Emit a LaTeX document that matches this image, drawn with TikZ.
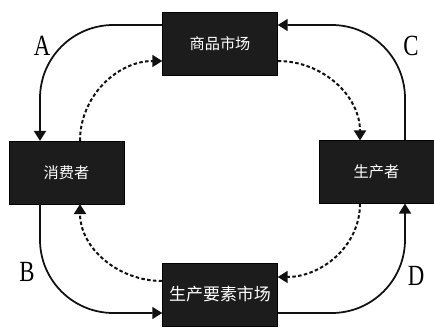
\documentclass[tikz,border=0pt]{standalone}
\usepackage{fontspec}
\usepackage{xcolor}
\usepackage{tikz}
\usetikzlibrary{arrows.meta,positioning,calc}
\newfontfamily\cjk{Noto Sans CJK SC}
\newfontfamily\labelfont{Liberation Serif}
\definecolor{boxdark}{HTML}{1C1C1C}
\definecolor{linedark}{HTML}{111111}
\tikzset{
  marketbox/.style={draw=black, fill=boxdark, text=white, align=center, inner sep=0pt, minimum width=34.5mm, minimum height=18.8mm, font=\cjk\fontsize{13}{13}\selectfont},
  arrow/.style={-{Triangle[length=3mm,width=3.6mm]}, line width=1.5pt, draw=linedark, rounded corners=22mm},
  dashedarrow/.style={-{Triangle[length=3mm,width=3.6mm]}, line width=1.7pt, draw=linedark, dash pattern=on 3pt off 2pt},
  flowlabel/.style={font=\labelfont\fontsize{25}{25}\selectfont, xscale=0.78}
}
\begin{document}
\begin{tikzpicture}[x=0.3mm, y=0.3mm]
  \useasboundingbox (0,0) rectangle (434,329);
  \node[marketbox] (market) at (220,285) {商品市场};
  \node[marketbox] (consumer) at (66.5,156.5) {消费者};
  \node[marketbox] (producer) at (376.5,157) {生产者};
  \node[marketbox, font=\cjk\fontsize{14.5}{14.5}\selectfont] (factor) at (220,34.5) {生产要素市场};

  % outer loop
  \draw[arrow] ($(market.west)+(0,19)$) -| ($(consumer.north)+(-26.5,0)$);
  \draw[arrow] ($(consumer.south)+(-26.5,0)$) |- ($(factor.west)+(0,-18.5)$);
  \draw[arrow] ($(factor.east)+(0,-18.5)$) -| ($(producer.south)+(28.5,0)$);
  \draw[arrow] ($(producer.north)+(28.5,0)$) |- ($(market.east)+(0,19)$);

  % inner loop
  \draw[dashedarrow] ($(consumer.north)+(13.5,0)$) to[out=90,in=180] ($(market.west)+(0,-17)$);
  \draw[dashedarrow] ($(market.east)+(0,-17)$) to[out=0,in=90] ($(producer.north)+(-16.5,0)$);
  \draw[dashedarrow] ($(producer.south)+(-16.5,0)$) to[out=-90,in=0] ($(factor.east)+(0,17.5)$);
  \draw[dashedarrow] ($(factor.west)+(0,13.5)$) to[out=180,in=-90] ($(consumer.south)+(13.5,0)$);

  \node[flowlabel] (la) at (42,283) {A};
  \node[flowlabel] (lc) at (411,283) {C};
  \node[flowlabel] (lb) at (27,57) {B};
  \node[flowlabel] (ld) at (416,53) {D};
\end{tikzpicture}
\end{document}
